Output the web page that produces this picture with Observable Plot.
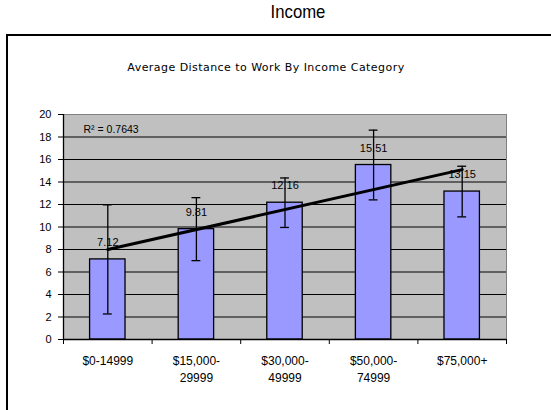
<!DOCTYPE html>
<html>
<head>
<meta charset="utf-8">
<script src="https://cdn.jsdelivr.net/npm/d3@7"></script>
<script src="https://cdn.jsdelivr.net/npm/@observablehq/plot@0.6"></script>
<style>
  html, body { margin: 0; padding: 0; width: 551px; height: 410px; overflow: hidden; background: #fff; }
  #page-title { position: absolute; top: 1px; left: 198px; width: 200px; text-align: center;
    font-family: "Liberation Sans Narrow", "Arial Narrow", "Liberation Sans", Arial, sans-serif; font-size: 19px; color: #000;
    transform: scaleX(0.88); transform-origin: center; }
  #frame { position: absolute; left: 6px; top: 34px; width: 640px; height: 440px; border: 2px solid #000; box-sizing: border-box; }
  #chart-title { position: absolute; top: 61px; left: 66px; width: 400px; text-align: center;
    font-family: "DejaVu Sans", sans-serif; font-size: 11px; letter-spacing: 0.45px; color: #000; }
  #chart { position: absolute; left: 0; top: 0; }
</style>
</head>
<body>
<div id="page-title">Income</div>
<div id="frame"></div>
<div id="chart-title">Average Distance to Work By Income Category</div>
<div id="chart"></div>
<script>
const categories = ["$0-14999", "$15,000-\n29999", "$30,000-\n49999", "$50,000-\n74999", "$75,000+"];
const distances = [7.12, 9.81, 12.16, 15.51, 13.15];
const errors = [4.85, 2.8, 2.2, 3.1, 2.25];
const yTicks = [0, 2, 4, 6, 8, 10, 12, 14, 16, 18, 20];
const r2Label = "R² = 0.7643";

const data = categories.map((c, k) => ({i: k + 1, category: c, value: distances[k], err: errors[k]}));
const positions = data.map(d => d.i);
const boundaries = [0.5, ...positions.map(p => p + 0.5)];

const numFont = "Liberation Sans, Arial, sans-serif";

const chart = Plot.plot({
  width: 551,
  height: 410,
  marginLeft: 63,
  marginRight: 45,
  marginTop: 114,
  marginBottom: 71,
  style: {fontFamily: numFont, fontSize: "11px", background: "transparent", color: "#000", overflow: "visible"},
  x: {type: "linear", domain: [0.5, 5.5]},
  y: {domain: [0, 20]},
  marks: [
    Plot.frame({fill: "#c0c0c0", stroke: "#808080"}),
    Plot.ruleY(yTicks.filter(t => t > 0 && t < 20), {stroke: "#000", strokeWidth: 1.2}),
    Plot.rectY(data, {x1: d => d.i - 0.2, x2: d => d.i + 0.2, y: "value", fill: "#9999ff", stroke: "#000", strokeWidth: 1.3}),
    Plot.text(data, {x: "i", y: "value", text: d => d.value.toFixed(2), dy: -17, fontSize: 11, fontFamily: numFont, fill: "#000"}),
    Plot.linearRegressionY(data, {x: "i", y: "value", stroke: "#000", strokeWidth: 3, ci: 0}),
    Plot.ruleX(data, {x: "i", y1: d => d.value - d.err, y2: d => d.value + d.err, stroke: "#000", strokeWidth: 1.3}),
    Plot.ruleY(data, {y: d => d.value + d.err, x1: d => d.i - 0.05, x2: d => d.i + 0.05, stroke: "#000", strokeWidth: 1.3}),
    Plot.ruleY(data, {y: d => d.value - d.err, x1: d => d.i - 0.05, x2: d => d.i + 0.05, stroke: "#000", strokeWidth: 1.3}),
    Plot.ruleY([0], {stroke: "#000", strokeWidth: 1.3}),
    Plot.ruleX([0.5], {stroke: "#000", strokeWidth: 1.3}),
    Plot.axisY({ticks: yTicks, tickSize: 5, tickPadding: 7, tickFormat: d => String(d), fontSize: 11, label: null}),
    Plot.axisX({ticks: boundaries, tickSize: 5, tickFormat: () => "", label: null}),
    Plot.axisX({ticks: positions, tickSize: 0, tickPadding: 14, lineHeight: 1.4, fontSize: 12, tickFormat: d => categories[d - 1], label: null}),
    Plot.text([r2Label], {frameAnchor: "top-left", dx: 20, dy: 11, textAnchor: "start", fontSize: 10.5, fontFamily: numFont, fill: "#000"})
  ]
});
document.getElementById("chart").appendChild(chart);
</script>
</body>
</html>
